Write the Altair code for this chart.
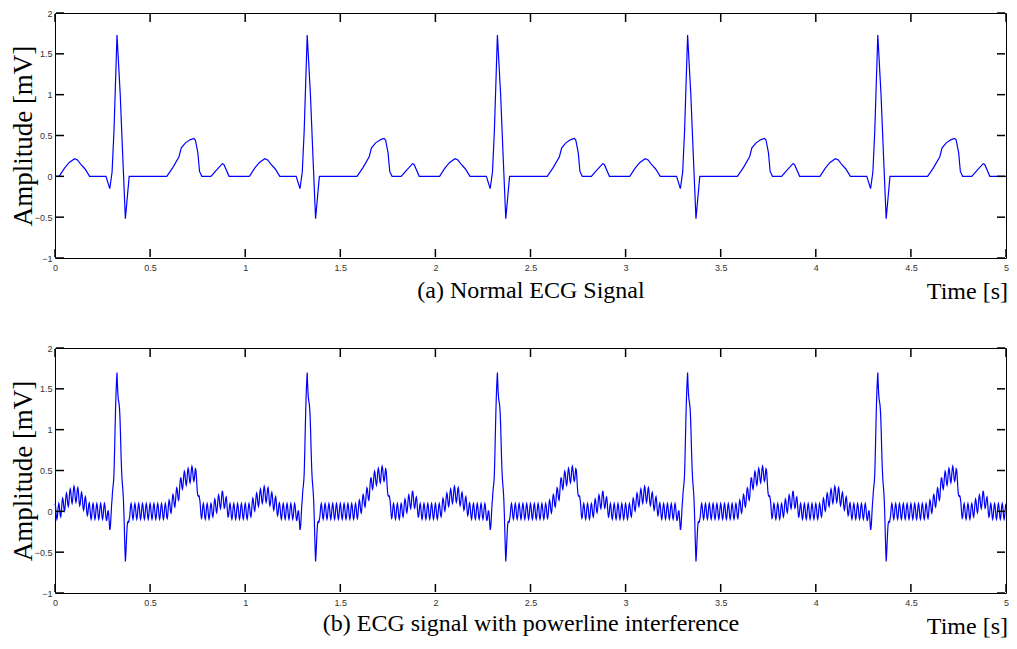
import altair as alt
import numpy as np
import pandas as pd

# ---- data ----
beat_onsets_s = [0, 1, 2, 3, 4]
# one heartbeat (identical in every second of the record)
beat_t = [0.000, 0.022, 0.050, 0.075, 0.103, 0.118, 0.135, 0.158, 0.182,
          0.268, 0.288, 0.300, 0.310, 0.326, 0.343, 0.357, 0.370, 0.390,
          0.588, 0.620, 0.652, 0.664, 0.686, 0.712, 0.730, 0.738, 0.751,
          0.760, 0.772, 0.820, 0.850, 0.880, 0.888, 0.915, 1.000]
beat_mv = [0.0, 0.0, 0.10, 0.17, 0.215, 0.20, 0.15, 0.09, 0.0,
           0.0, -0.15, 0.05, 0.55, 1.73, 1.00, 0.20, -0.52, 0.0,
           0.0, 0.11, 0.24, 0.35, 0.41, 0.45, 0.465, 0.445, 0.29,
           0.06, 0.0, 0.0, 0.08, 0.155, 0.145, 0.0, 0.0]
# one cycle (20 ms) of the powerline hum seen in panel (b), in mV
hum_cycle_mv = [0.095, 0.077, 0.030, -0.030, -0.077, -0.095, -0.077, -0.030, 0.030, 0.077]
hum_step_s = 0.002

x_ticks = [0, 0.5, 1, 1.5, 2, 2.5, 3, 3.5, 4, 4.5, 5]
y_ticks = [-1, -0.5, 0, 0.5, 1, 1.5, 2]
captions = ["(a) Normal ECG Signal", "(b) ECG signal with powerline interference"]
time_label = "Time [s]"
y_label = "Amplitude [mV]"

# ---- build tables ----
t_clean, v_clean = [], []
for b in beat_onsets_s:
    for tt, vv in zip(beat_t[:-1], beat_mv[:-1]):
        t_clean.append(b + tt)
        v_clean.append(vv)
t_clean.append(beat_onsets_s[-1] + beat_t[-1])
v_clean.append(beat_mv[-1])
df_a = pd.DataFrame({"t": t_clean, "mv": v_clean})

n = int(round(5 / hum_step_s)) + 1
idx = np.arange(n)
ts = np.round(idx * hum_step_s, 4)
base = np.interp(ts % 1.0, beat_t, beat_mv)
hum = np.array(hum_cycle_mv)[idx % len(hum_cycle_mv)]
df_b = pd.DataFrame({"t": ts, "mv": base + hum})

W, H = 951, 245
GAP = 90
TICK = 9
tick_color = "#000000"


def panel(df, caption, title_pad, time_dy):
    xs = alt.Scale(domain=[0, 5], nice=False, zero=False)
    ys = alt.Scale(domain=[-1, 2], nice=False, zero=False)
    xax = alt.Axis(
        values=x_ticks, format="~g", title=caption, ticks=False, domain=False, grid=False,
        labelFlush=False, labelPadding=5, titlePadding=title_pad,
        titleFontSize=24, titleFont="Liberation Serif", titleFontWeight="normal",
        titleColor="#000000")
    yax = alt.Axis(
        values=y_ticks, format="~g", title=y_label, ticks=False, domain=False, grid=False,
        labelPadding=3, titlePadding=-3, titleFontSize=27,
        titleFont="Liberation Serif", titleFontWeight="normal",
        titleColor="#000000")
    X = lambda: alt.X("t:Q", scale=xs, axis=xax)
    Y = lambda: alt.Y("mv:Q", scale=ys, axis=yax)
    line = alt.Chart(df).mark_line(color="#0000ff", strokeWidth=1.2).encode(x=X(), y=Y())
    xt = pd.DataFrame({"t": x_ticks})
    yt = pd.DataFrame({"mv": y_ticks})
    rule = dict(color=tick_color, strokeWidth=1.5, opacity=1)
    xtop = alt.Chart(xt).mark_rule(**rule).encode(
        x=X(), y=alt.value(1), y2=alt.value(TICK))
    xbot = alt.Chart(xt).mark_rule(**rule).encode(
        x=X(), y=alt.value(H - TICK), y2=alt.value(H - 1))
    yleft = alt.Chart(yt).mark_rule(**rule).encode(
        y=Y(), x=alt.value(1), x2=alt.value(TICK))
    yright = alt.Chart(yt).mark_rule(**rule).encode(
        y=Y(), x=alt.value(W - TICK), x2=alt.value(W - 1))
    tlab = alt.Chart(pd.DataFrame({"lab": [time_label]})).mark_text(
        align="right", baseline="alphabetic", font="Liberation Serif",
        fontSize=24, color="#000000").encode(
        text="lab:N", x=alt.value(W + 2), y=alt.value(H + time_dy))
    return alt.layer(line, xtop, xbot, yleft, yright, tlab).properties(width=W, height=H)


top = panel(df_a, captions[0], 6, 41)
bottom = panel(df_b, captions[1], 4, 41)

PL, PT = 47, 5
SVG_W, SVG_H = 1001, 633
chart = alt.vconcat(top, bottom, spacing=GAP, bounds="flush").properties(
    autosize=alt.AutoSizeParams(type="none"),
    padding={"left": PL, "top": PT, "right": SVG_W - PL - W, "bottom": SVG_H - PT},
).configure_view(stroke="#000000", strokeWidth=1).configure_axis(
    labelFont="Liberation Sans", labelFontSize=9, labelColor="#333333"
)

chart.save("out.html", embed_options={"renderer": "svg", "actions": False})
